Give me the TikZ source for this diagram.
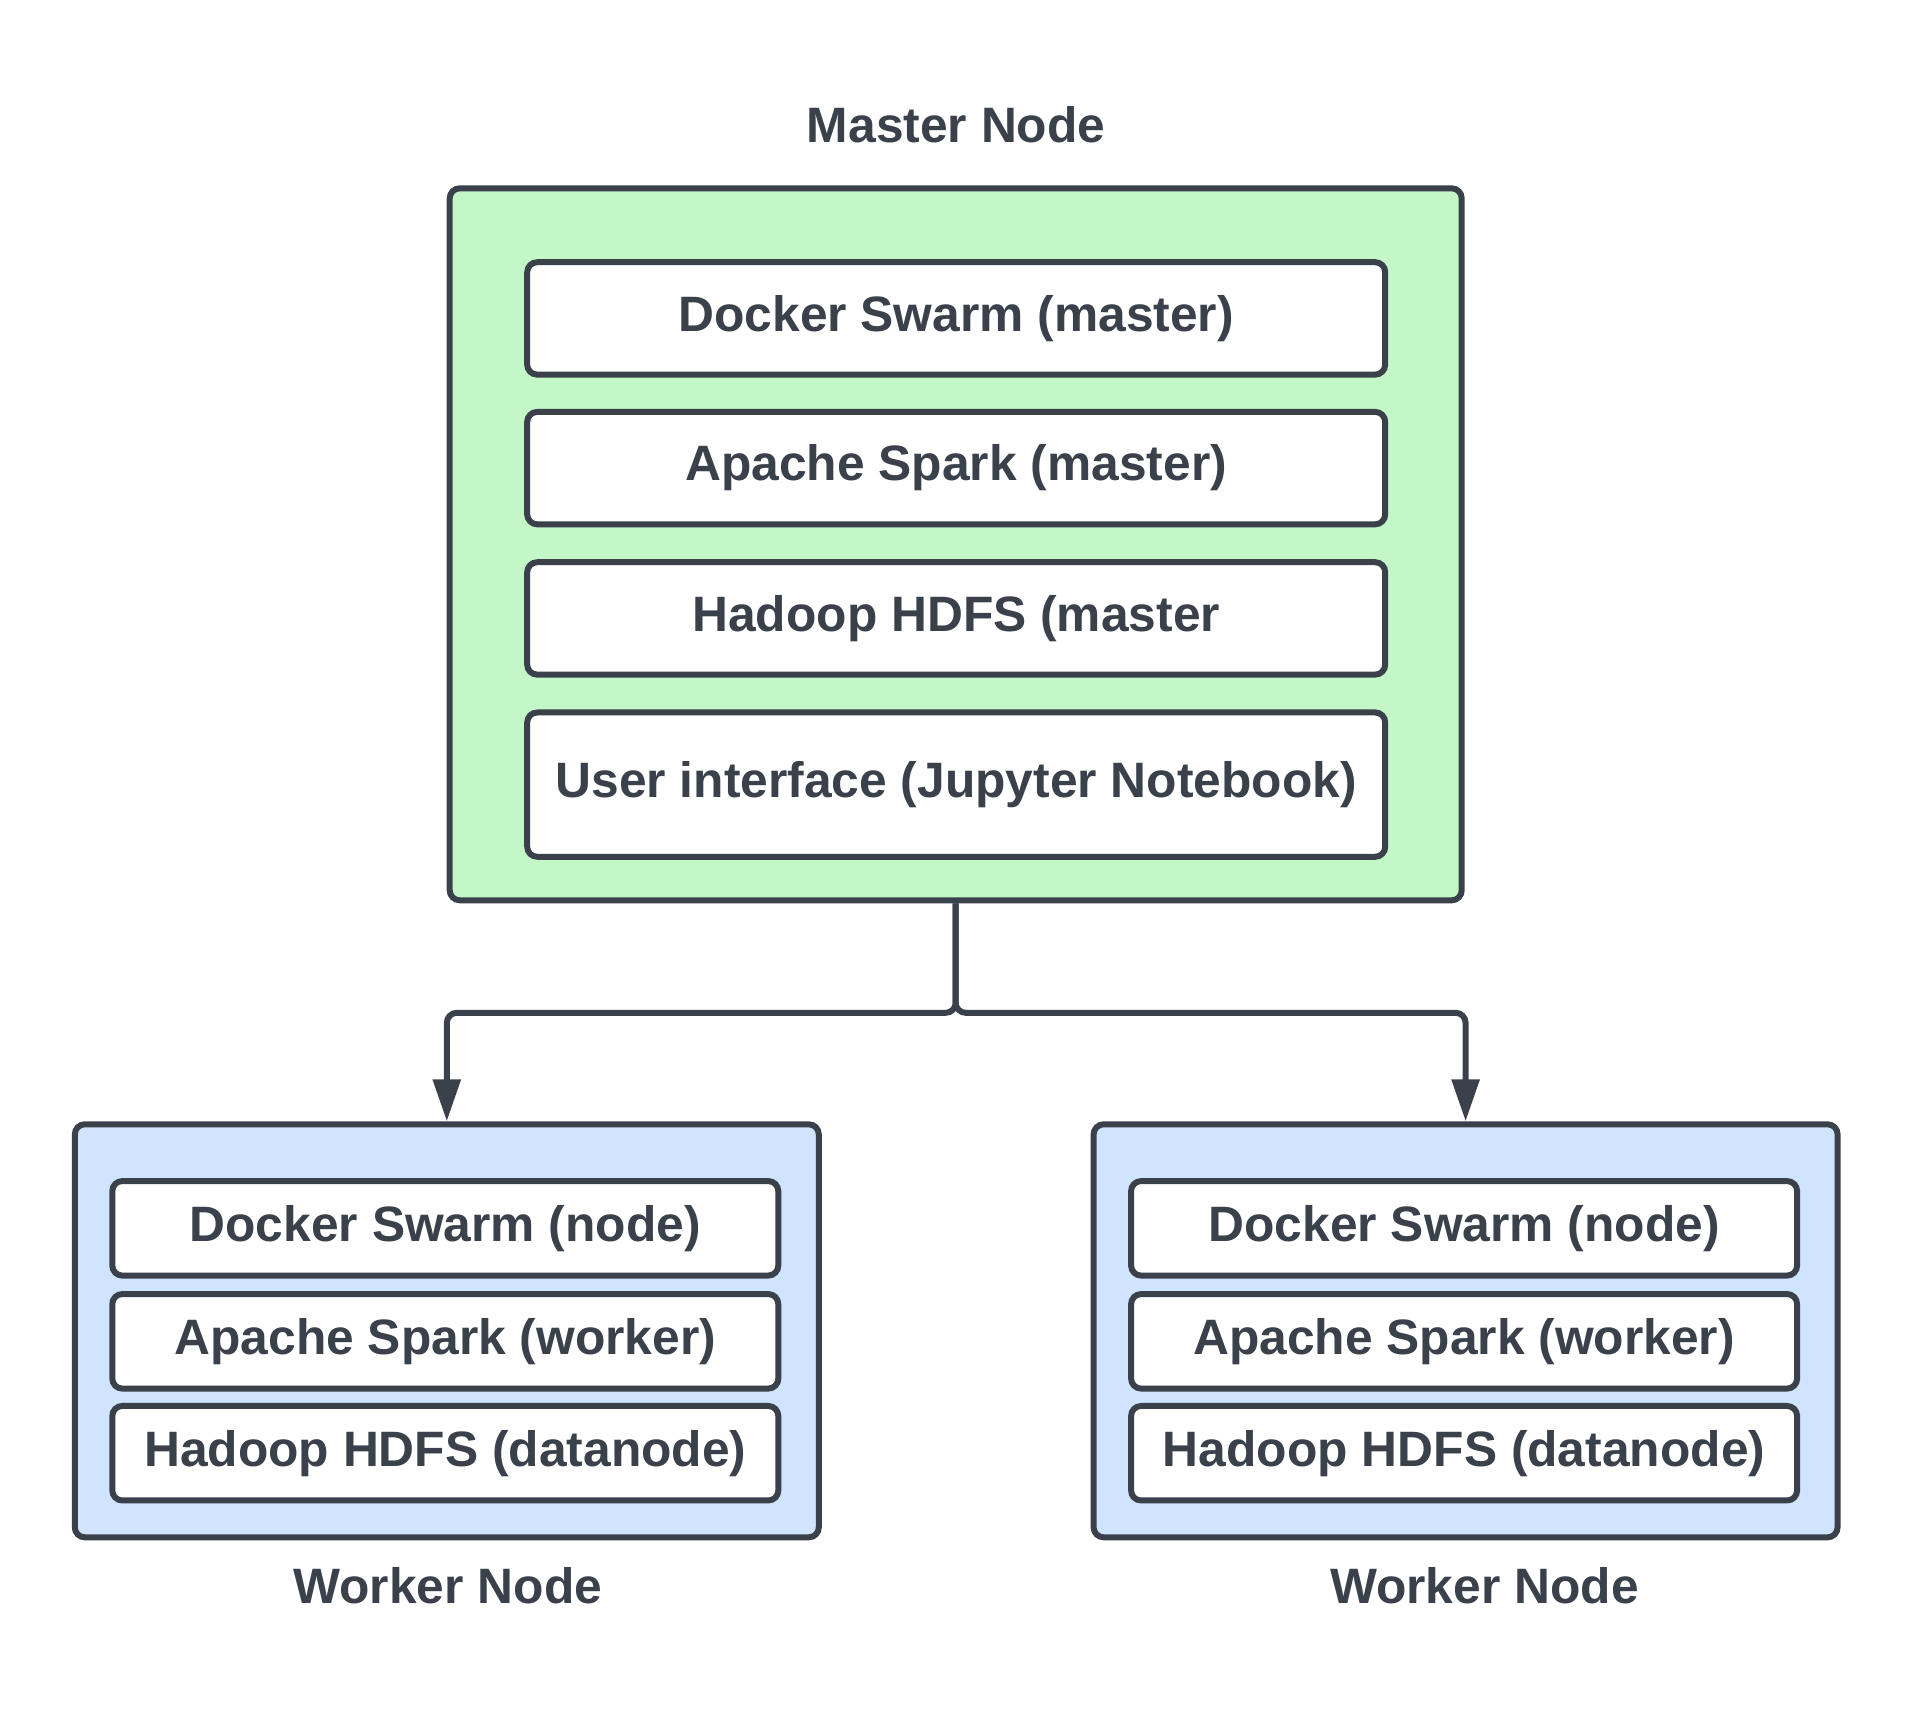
\documentclass[tikz,border=0pt]{standalone}
\usepackage{fontspec}
\setmainfont{Liberation Sans}
\usepackage{xcolor}
\definecolor{ink}{HTML}{3A414A}
\definecolor{masterfill}{HTML}{C3F7C8}
\definecolor{workerfill}{HTML}{CFE4FF}
\usetikzlibrary{arrows.meta}
\usetikzlibrary{positioning}

\begin{document}
\begin{tikzpicture}[every node/.style={font=\fontsize{14.15}{17}\selectfont\bfseries, text=ink},
  frame/.style={draw=ink, line width=1.7pt, rounded corners=1mm, inner sep=0pt},
  layer/.style={frame, fill=white, minimum width=8.58cm, minimum height=1.124cm},
  wlayer/.style={frame, fill=white, minimum width=6.66cm, minimum height=0.945cm},
  link/.style={draw=ink, line width=1.7pt, rounded corners=1mm, -{Triangle[length=4.2mm,width=2.7mm]}}]
  \useasboundingbox (0,0) rectangle (19.13,-17.25);

  % Master
  \node (mastertitle) at (9.562,-1.244) {Master Node};
  \node[frame, fill=masterfill, minimum width=10.12cm, minimum height=7.12cm] (master) at (9.557,-5.443) {};
    \node[layer] (mdocker) at (9.562,-3.184) {Docker Swarm (master)};
    \node[layer] (mspark) at (9.562,-4.681) {Apache Spark (master)};
    \node[layer] (mhdfs) at (9.562,-6.184) {Hadoop HDFS (master};
    \node[layer, minimum height=1.443cm] (mui) at (9.562,-7.846) {User interface (Jupyter Notebook)};

  % Worker left
  \node[frame, fill=workerfill, minimum width=7.44cm, minimum height=4.13cm] (wleft) at (4.468,-13.308) {};
    \node[wlayer] (ldocker) at (4.453,-12.283) {Docker Swarm (node)};
    \node[wlayer] (lspark) at (4.453,-13.413) {Apache Spark (worker)};
    \node[wlayer] (lhdfs) at (4.453,-14.532) {Hadoop HDFS (datanode)};
  \node (lefttitle) at (4.478,-15.86) {Worker Node};

  % Worker right
  \node[frame, fill=workerfill, minimum width=7.44cm, minimum height=4.13cm] (wright) at (14.656,-13.308) {};
    \node[wlayer] (rdocker) at (14.641,-12.283) {Docker Swarm (node)};
    \node[wlayer] (rspark) at (14.641,-13.413) {Apache Spark (worker)};
    \node[wlayer] (rhdfs) at (14.641,-14.532) {Hadoop HDFS (datanode)};
  \node (righttitle) at (14.845,-15.86) {Worker Node};

  % Links
  \draw[link] (master.south) -- ++(0,-1.095) -| (wleft.north);
  \draw[link] (master.south) -- ++(0,-1.095) -| (wright.north);

\end{tikzpicture}
\end{document}
